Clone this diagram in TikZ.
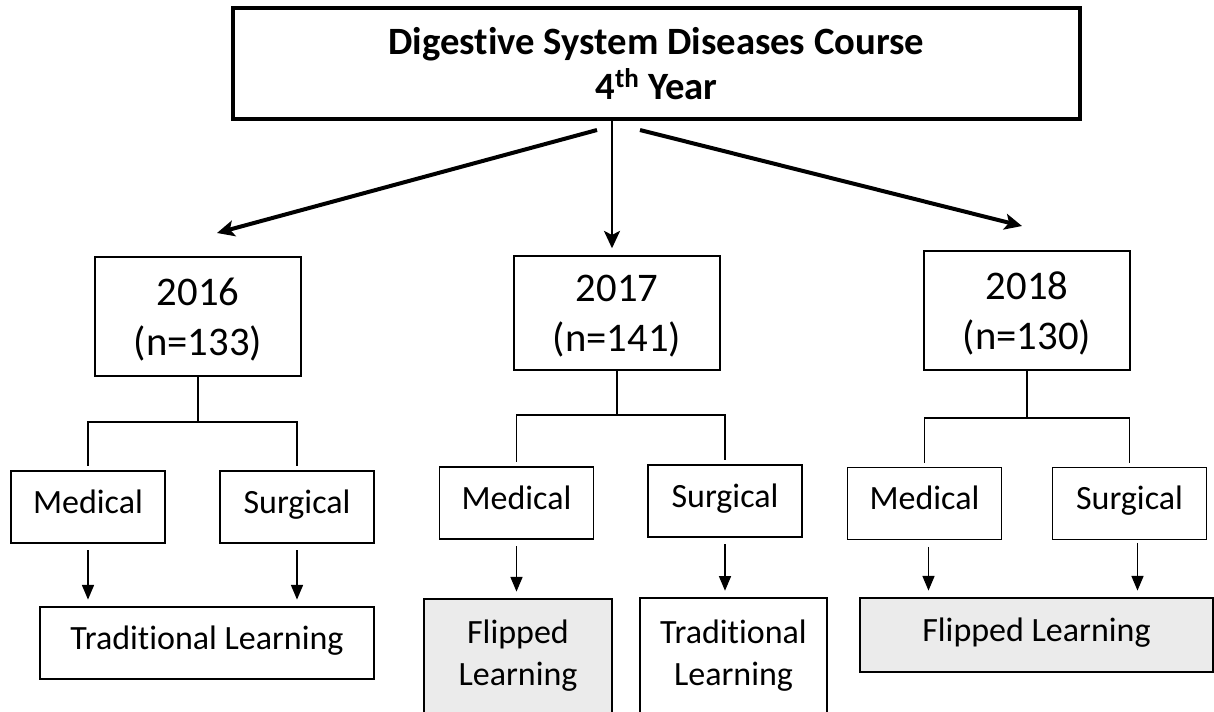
\documentclass[tikz,border=0pt]{standalone}
\usepackage{fontspec}
\setmainfont{Carlito}[Ligatures=CommonOff]
\usetikzlibrary{arrows.meta}

\begin{document}
\begin{tikzpicture}[x=0.75pt,y=-0.75pt,
    box/.style={draw, rectangle, inner sep=0pt, align=center},
    titlebox/.style={box, line width=3pt, font=\bfseries\fontsize{29}{33.75}\selectfont},
    yearbox/.style={box, line width=1.6pt, minimum width=155pt, minimum height=89pt, text depth=0pt, font=\fontsize{30.5}{37.5}\selectfont},
    groupbox/.style={box, line width=1.1pt, minimum width=115.5pt, minimum height=54pt, font=\fontsize{25.5}{31.5}\selectfont},
    oneline/.style={text height=14pt, text depth=4.8pt},
    learnbox/.style={groupbox},
    flipbox/.style={learnbox, fill=black!8},
    branch/.style={line width=1.4pt},
    down/.style={line width=1.1pt, -{Triangle[length=11pt,width=9pt]}, shorten <=5pt, shorten >=5pt},
    split/.style={line width=3pt, -{Stealth[length=13pt,width=12pt,inset=3pt]}}]
  \useasboundingbox (0,0) rectangle (1214,711);

  \node[titlebox, minimum width=635pt, minimum height=83pt] (course) at (656.5,63.5) {Digestive System Diseases Course\\4\textsuperscript{th} Year};

  \node[yearbox] (y16) at (198,316.5) {2016\\(n=133)};
  \node[yearbox, minimum height=85.5pt] (y17) at (617,313) {2017\\(n=141)};
  \node[yearbox] (y18) at (1027,310.5) {2018\\(n=130)};

  \node[groupbox, oneline] (med16) at (88,507) {Medical};
  \node[groupbox, oneline] (sur16) at (297,507) {Surgical};
  \node[groupbox, oneline] (med17) at (516.5,503) {Medical};
  \node[groupbox, oneline] (sur17) at (725,501) {Surgical};
  \node[groupbox, oneline] (med18) at (924.5,503.5) {Medical};
  \node[groupbox, oneline] (sur18) at (1129.5,503.5) {Surgical};

  \node[learnbox, oneline, minimum width=250.5pt] (trad16) at (207,643) {Traditional Learning};
  \node[flipbox, minimum width=141pt, minimum height=85.5pt] (flip17) at (518,656) {Flipped\\Learning};
  \node[learnbox, minimum width=140pt, minimum height=86pt] (trad17) at (733.5,655.5) {Traditional\\Learning};
  \node[flipbox, oneline, text height=15pt, minimum width=265pt, minimum height=55.5pt] (flip18) at (1036.5,635) {Flipped Learning};

  \coordinate (srcL) at (597,130);
  \coordinate (tipL) at (217,233);
  \coordinate (srcC) at (612,121);
  \coordinate (srcR) at (640,130);
  \coordinate (tipR) at (1022,226);
  \draw[split] (srcL) -- (tipL);
  \draw[split, line width=1.9pt, shorten >=5pt] (srcC) -- (srcC |- y17.north);
  \draw[split] (srcR) -- (tipR);

  \foreach \yr/\h in {16/45, 17/44, 18/47} {
    \draw[branch] (y\yr.south) -- ++(0,\h) coordinate (j\yr);
    \draw[branch, shorten >=3pt] (j\yr) -| (med\yr.north);
    \draw[branch, shorten >=3pt] (j\yr) -| (sur\yr.north);
  }

  \draw[down] (med16.south) -- (med16.south |- trad16.north);
  \draw[down] (sur16.south) -- (sur16.south |- trad16.north);
  \draw[down] (med17.south) -- (med17.south |- flip17.north);
  \draw[down] (sur17.south) -- (sur17.south |- trad17.north);
  \draw[down] ([xshift=3pt]med18.south) -- ([xshift=3pt]med18.south |- flip18.north);
  \draw[down, shorten <=2pt] ([xshift=6pt]sur18.south) -- ([xshift=6pt]sur18.south |- flip18.north);
\end{tikzpicture}
\end{document}
